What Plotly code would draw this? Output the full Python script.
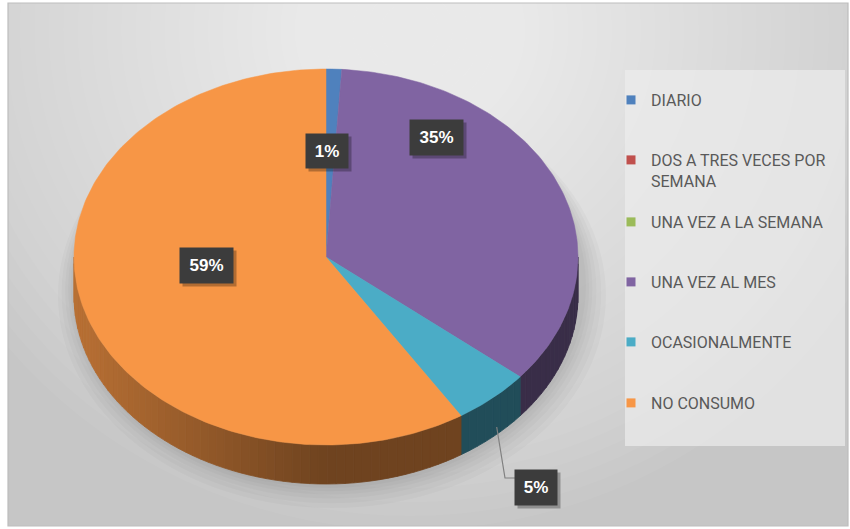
import math
import plotly.graph_objects as go

# ---------------- data ----------------
categories = ["DIARIO", "DOS A TRES VECES POR SEMANA", "UNA VEZ A LA SEMANA",
              "UNA VEZ AL MES", "OCASIONALMENTE", "NO CONSUMO"]
legend_labels = ["DIARIO", "DOS A TRES VECES POR<br>SEMANA", "UNA VEZ A LA SEMANA",
                 "UNA VEZ AL MES", "OCASIONALMENTE", "NO CONSUMO"]
values = [1, 0, 0, 35, 5, 59]
colors = ["#4F81BD", "#C0504D", "#9BBB59", "#8064A2", "#4BACC6", "#F79646"]

# ---------------- layout constants (pixels) ----------------
W, H = 850, 529
CX, CY, RX, RY, DEPTH = 326, 257, 252, 188, 39
label_pos = {0: (327, 151), 3: (436, 137), 4: (536, 487), 5: (206, 265)}
label_size = {0: (40, 32), 3: (51, 33), 4: (40, 33), 5: (51, 33)}
legend_y = [100, 160, 222, 282, 342, 403]


def hex_rgb(h):
    h = h.lstrip("#")
    return tuple(int(h[i:i + 2], 16) for i in (0, 2, 4))


def shade(h, f):
    r, g, b = hex_rgb(h)
    return "rgb(%d,%d,%d)" % (min(255, r * f), min(255, g * f), min(255, b * f))


def rim(theta, dy=0.0):
    return CX + RX * math.sin(theta), CY - RY * math.cos(theta) + dy


total = float(sum(values))
fig = go.Figure()

# slice angles
bounds = []
acc = 0.0
for v in values:
    a0 = acc / total * 2 * math.pi
    acc += v
    a1 = acc / total * 2 * math.pi
    bounds.append((a0, a1))

# ---------- side (extruded rim) ----------
for i, (a0, a1) in enumerate(bounds):
    if values[i] == 0:
        continue
    s0, s1 = max(a0, math.pi / 2), min(a1, 3 * math.pi / 2)
    if s1 <= s0:
        continue
    n = max(1, int(math.degrees(s1 - s0) / 2))
    for k in range(n):
        t0 = s0 + (s1 - s0) * k / n
        t1 = s0 + (s1 - s0) * (k + 1) / n
        tm = 0.5 * (t0 + t1)
        f = 0.45 + 0.3 * max(0.0, -math.sin(tm))
        c = shade(colors[i], f)
        pts = [rim(t0), rim(t1), rim(t1, DEPTH), rim(t0, DEPTH)]
        fig.add_trace(go.Scatter(
            x=[p[0] for p in pts] + [pts[0][0]], y=[p[1] for p in pts] + [pts[0][1]],
            mode="lines", fill="toself", fillcolor=c, line=dict(color=c, width=0.8),
            hoverinfo="skip", showlegend=False))

# ---------- top face ----------
for i, (a0, a1) in enumerate(bounds):
    if values[i] == 0:
        continue
    n = max(2, int(math.degrees(a1 - a0)))
    xs, ys = [CX], [CY]
    for k in range(n + 1):
        px, py = rim(a0 + (a1 - a0) * k / n)
        xs.append(px)
        ys.append(py)
    xs.append(CX)
    ys.append(CY)
    fig.add_trace(go.Scatter(
        x=xs, y=ys, mode="lines", fill="toself", fillcolor=colors[i],
        line=dict(color=colors[i], width=0.5), name=categories[i],
        hovertemplate="%s: %d%%<extra></extra>" % (categories[i], values[i]),
        showlegend=False))

# ---------- legend entries ----------
for i, lab in enumerate(legend_labels):
    fig.add_trace(go.Scatter(
        x=[None], y=[None], mode="markers", name=lab,
        marker=dict(symbol="square", size=9, color=colors[i]),
        legend="legend" if i == 0 else "legend%d" % (i + 1)))

# ---------- background shapes ----------
shapes = []
shapes.append(dict(type="rect", xref="x", yref="y", x0=8, y0=3, x1=848, y1=526,
                   fillcolor="#c6c6c6", line=dict(width=0), layer="below"))
N = 36
for k in range(N):
    s = 1 - k / N
    rx, ry = 520 * s, 500 * s
    shapes.append(dict(type="circle", xref="x", yref="y",
                       x0=410 - rx, x1=410 + rx, y0=30 - ry, y1=30 + ry,
                       fillcolor="white", opacity=0.042, line=dict(width=0), layer="below"))
# soft shadow under the pie
for grow in [30, 24, 18, 13, 9, 5]:
    shapes.append(dict(type="circle", xref="x", yref="y",
                       x0=CX - RX - grow * 0.6 + 2, x1=CX + RX + grow * 0.8 + 4,
                       y0=CY - RY + 14, y1=CY + RY + DEPTH + grow * 0.8,
                       fillcolor="black", opacity=0.025, line=dict(width=0), layer="below"))
# cover anything outside the frame with white
shapes += [
    dict(type="rect", xref="x", yref="y", x0=-50, x1=8, y0=-50, y1=600, fillcolor="white", line=dict(width=0), layer="below"),
    dict(type="rect", xref="x", yref="y", x0=848, x1=900, y0=-50, y1=600, fillcolor="white", line=dict(width=0), layer="below"),
    dict(type="rect", xref="x", yref="y", x0=-50, x1=900, y0=-50, y1=3, fillcolor="white", line=dict(width=0), layer="below"),
    dict(type="rect", xref="x", yref="y", x0=-50, x1=900, y0=526, y1=600, fillcolor="white", line=dict(width=0), layer="below"),
]
# legend panel
shapes.append(dict(type="rect", xref="x", yref="y", x0=625, y0=70, x1=845, y1=446,
                   fillcolor="rgba(236,236,236,0.72)", line=dict(width=0), layer="below"))
# frame
shapes.append(dict(type="rect", xref="x", yref="y", x0=8, y0=3, x1=848, y1=526,
                   fillcolor="rgba(0,0,0,0)", line=dict(color="#bdbdbd", width=1.2), layer="below"))

# leader line for the small slice
a0, a1 = bounds[4]
sx, sy = rim(0.5 * (a0 + a1), DEPTH)
lx, ly = label_pos[4]
lw, lh = label_size[4]
shapes.append(dict(type="path", xref="x", yref="y",
                   path="M %.1f %.1f L %.1f %.1f L %.1f %.1f" % (sx + 4, sy - 10, lx - lw / 2 - 11, ly - 9, lx - lw / 2, ly - 9),
                   line=dict(color="#808080", width=1.2)))

# ---------- data labels ----------
annotations = []
for i, (px, py) in label_pos.items():
    w, h = label_size[i]
    annotations.append(dict(x=px + 3, y=py + 3, xref="x", yref="y", text=" ", showarrow=False,
                            width=w, height=h, bgcolor="rgba(0,0,0,0.28)"))
    annotations.append(dict(x=px, y=py, xref="x", yref="y",
                            text="<b>%d%%</b>" % values[i], showarrow=False,
                            width=w, height=h, bgcolor="#3c3c3c",
                            font=dict(family="Liberation Sans, Arial, sans-serif", size=17, color="white")))

layout_legends = {}
for i, yc in enumerate(legend_y):
    key = "legend" if i == 0 else "legend%d" % (i + 1)
    layout_legends[key] = dict(
        x=611 / W, y=1 - (yc - 17) / H, xanchor="left", yanchor="top",
        bgcolor="rgba(0,0,0,0)", itemwidth=30, valign="top",
        font=dict(family="Roboto, Liberation Sans, Arial, sans-serif", size=16, color="#595959"))

fig.update_layout(
    width=W, height=H, margin=dict(l=0, r=0, t=0, b=0),
    paper_bgcolor="white", plot_bgcolor="rgba(0,0,0,0)",
    xaxis=dict(range=[0, W], visible=False, fixedrange=True),
    yaxis=dict(range=[H, 0], visible=False, fixedrange=True),
    shapes=shapes, annotations=annotations, showlegend=True,
    **layout_legends)

fig.write_html("out.html", config={"displayModeBar": False},
               post_script="document.body.style.margin='0';document.body.style.overflow='hidden';")
